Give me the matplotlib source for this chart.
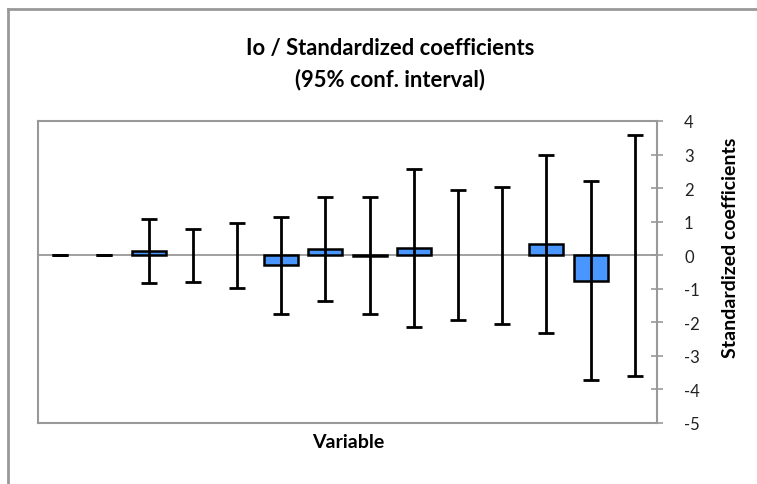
import matplotlib
matplotlib.use("Agg")
import matplotlib.pyplot as plt
import numpy as np

plt.rcParams['font.family'] = ['Lato', 'DejaVu Sans']
plt.rcParams['axes.unicode_minus'] = False

# values
variables = ['X1', 'X2', 'X3', 'X4', 'X5', 'X6', 'X7', 'X8', 'X9', 'X10', 'X11', 'X12', 'X13', 'X14']
coef = [0.0, 0.0, 0.13, 0.0, 0.0, -0.30, 0.19, -0.02, 0.23, 0.0, 0.0, 0.33, -0.76, 0.0]
ci_low = [0.0, 0.0, -0.84, -0.80, -0.99, -1.75, -1.37, -1.76, -2.14, -1.94, -2.05, -2.32, -3.71, -3.60]
ci_high = [0.0, 0.0, 1.09, 0.79, 0.97, 1.13, 1.73, 1.73, 2.57, 1.93, 2.04, 3.00, 2.20, 3.59]
yticks = [4, 3, 2, 1, 0, -1, -2, -3, -4, -5]

W, H = 757, 485
fig = plt.figure(figsize=(W / 100, H / 100), dpi=100)
ax = fig.add_axes([38 / W, 1 - 424 / H, (657 - 38) / W, (424 - 122) / H])

x = np.arange(len(variables))
coef = np.array(coef)
edges = ['black' if c != 0 else 'none' for c in coef]
ax.bar(x, coef, width=0.77, color='#4A96FF', edgecolor=edges, linewidth=1.8, zorder=3)
ax.axhline(0, color='#999999', lw=1.3, zorder=2)
yerr = np.array([coef - np.array(ci_low), np.array(ci_high) - coef])
ax.errorbar(x, coef, yerr=yerr, fmt='none', ecolor='black', elinewidth=2,
            capsize=6, capthick=2, zorder=4)

ax.set_xlim(-0.5, len(variables) - 0.5)
ax.set_ylim(-5, 4)
ax.set_xticks([])
ax.set_yticks(yticks)
ax.yaxis.tick_right()
ax.tick_params(axis='y', direction='inout', length=9, width=1.2, color='#999999',
               labelsize=12, pad=15)
for lbl in ax.get_yticklabels():
    lbl.set_color('#222222')
for s in ax.spines.values():
    s.set_color('#999999')
    s.set_linewidth(1.5)

fig.text(348 / W, 1 - 443 / H, 'Variable', ha='center', va='center',
         fontsize=14, fontweight='bold')
fig.text(730 / W, 1 - 248 / H, 'Standardized coefficients', ha='center', va='center',
         rotation=90, fontsize=14, fontweight='bold')
fig.text(390 / W, 1 - 48 / H, 'Io / Standardized coefficients', ha='center', va='center',
         fontsize=15.8, fontweight='bold')
fig.text(390 / W, 1 - 80 / H, '(95% conf. interval)', ha='center', va='center',
         fontsize=15.8, fontweight='bold')

# outer chart border (only left and top visible)
fig.add_artist(plt.Line2D([8 / W, 8 / W], [0, 1 - 10 / H], color='#999999', lw=2))
fig.add_artist(plt.Line2D([8 / W, 1], [1 - 10 / H, 1 - 10 / H], color='#999999', lw=2))

fig.savefig('out.png', dpi=100)
